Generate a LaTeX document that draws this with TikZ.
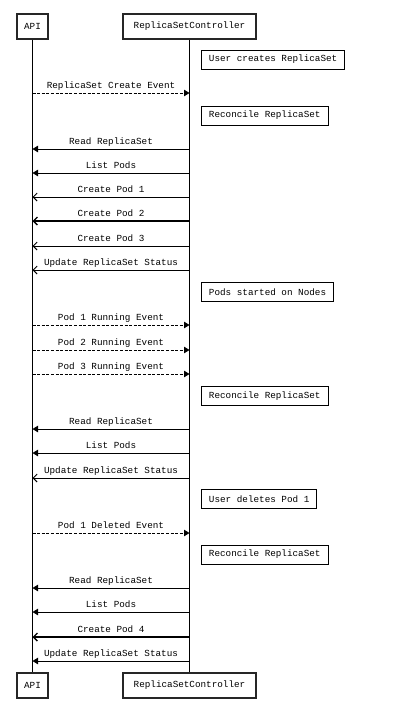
\documentclass[tikz,border=0pt]{standalone}
\usepackage{fontspec}
\setmonofont{Liberation Mono}
\usetikzlibrary{arrows.meta}
\tikzset{
	seqfont/.style={font=\ttfamily\fontsize{9.3}{11}\selectfont},
	actor/.style={seqfont,draw=black!85,line width=1.2pt,minimum height=25pt,inner xsep=0pt,inner ysep=0pt},
	note/.style={seqfont,draw,line width=.9pt,anchor=west,minimum height=19pt,inner xsep=7.5pt,inner ysep=0pt},
	lbl/.style={seqfont,midway,anchor=base,yshift=4.5pt,inner sep=0pt},
	evt/.style={dash pattern=on 3pt off 1.6pt,line width=.9pt,-{Triangle[length=5.5pt,width=6.5pt]}},
	call/.style={line width=.9pt,-{Triangle[length=5.5pt,width=6.5pt]}},
	make/.style={line width=.9pt,-{Straight Barb[length=4pt,width=8pt]}},
	makeb/.style={line width=1.4pt,-{Straight Barb[length=4pt,width=8pt]}},
}
\begin{document}
\begin{tikzpicture}[x=1pt,y=-1pt]
	\useasboundingbox (0,0) rectangle (400,709);
	% participants
	\node[actor,minimum width=31pt] (api) at (32.5,26.5) {API};
	\node[actor,minimum width=133pt] (rsc) at (189.5,26.5) {ReplicaSetController};
	\node[actor,minimum width=31pt] (apiB) at (32.5,685.5) {API};
	\node[actor,minimum width=133pt] (rscB) at (189.5,685.5) {ReplicaSetController};
	\draw[line width=1pt] (api) -- (apiB);
	\draw[line width=1pt] (rsc) -- (rscB);
	% notes
	\foreach \y/\txt [count=\i] in {59.5/User creates ReplicaSet,115.5/Reconcile ReplicaSet,
		292/Pods started on Nodes,396/Reconcile ReplicaSet,499/User deletes Pod 1,554.5/Reconcile ReplicaSet}
		\node[note] (n\i) at (201,\y) {\txt};
	% events from the API
	\foreach \y/\txt in {93/ReplicaSet Create Event,325/Pod 1 Running Event,350/Pod 2 Running Event,
		374/Pod 3 Running Event,533/Pod 1 Deleted Event}{
		\coordinate (a\y) at (api |- 0,\y);
		\coordinate (c\y) at (rsc |- 0,\y);
		\draw[evt] (a\y) -- (c\y) node[lbl]{\txt};
	}
	% calls to the API
	\foreach \y/\txt/\kind in {149/Read ReplicaSet/call,173/List Pods/call,197/Create Pod 1/make,
		221/Create Pod 2/makeb,246/Create Pod 3/make,270/Update ReplicaSet Status/make,
		429/Read ReplicaSet/call,453/List Pods/call,478/Update ReplicaSet Status/make,
		588/Read ReplicaSet/call,612/List Pods/call,637/Create Pod 4/makeb,661/Update ReplicaSet Status/call}{
		\coordinate (a\y) at (api |- 0,\y);
		\coordinate (c\y) at (rsc |- 0,\y);
		\draw[\kind] (c\y) -- (a\y) node[lbl]{\txt};
	}
\end{tikzpicture}
\end{document}
